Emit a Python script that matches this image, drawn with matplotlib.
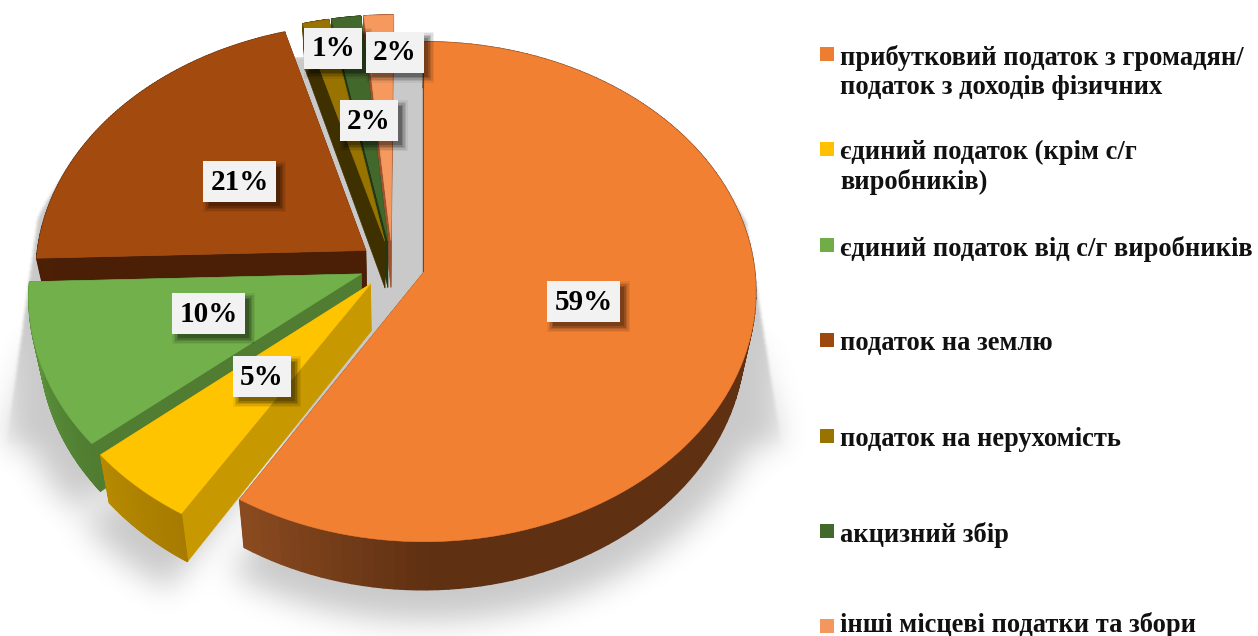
#!/usr/bin/env python3

import matplotlib.pyplot as plt
import numpy as np
from matplotlib import colors
from matplotlib.path import Path
from matplotlib.patches import Rectangle

legend_labels = [
    "прибутковий податок з громадян/\nподаток з доходів фізичних",
    "єдиний податок (крім с/г\nвиробників)",
    "єдиний податок від с/г виробників",
    "податок на землю",
    "податок на нерухомість",
    "акцизний збір",
    "інші місцеві податки та збори",
]
values = [58.7, 5.1, 10.7, 21.0, 1.4, 1.55, 1.55]
value_labels = ["59%", "5%", "10%", "21%", "1%", "2%", "2%"]

top_colors = ["#F28033", "#FFC400", "#72B04C", "#A34B0F", "#997300", "#43682B", "#F6995F"]
side_colors = ["#5F3012", "#C89800", "#507D32", "#4A1F05", "#3F3000", "#1F3A14", "#A0522D"]
arc_start_colors = ["#5F3012", "#A67B00", "#4F7C31", "#4A1F05", "#5F4700", "#2A441C", "#A0522D"]
arc_end_colors = ["#8A4A20", "#B58900", "#5F9A3E", "#5A2A0A", "#5F4700", "#2A441C", "#A0522D"]
arc_fade = [0.85, 0, 0, 0, 0, 0, 0]
legend_colors = ["#ED7D31", "#FFC000", "#70AD47", "#9E480E", "#997300", "#43682B", "#F4975F"]
label_pos = [(583.5, 301.5), (262, 376.5), (208.5, 313.5), (239.5, 181.5),
             (333, 48), (368.5, 120.5), (395, 52)]
legend_y = [54, 149, 245, 340, 436, 531, 626]

# perspective of the pie plane, fitted on the picture
CX, CY = 391, 265
PX, PU = 424, 0.096
RX, RY = 330, 247.3
PERSP = 0.08
EXPLODE = 0.1
DEPTH = 47
SHRINK = 0.97


def project(u, v):
    w = 1 + PERSP * v
    return PX + RX * (u - PU) / w, CY - RY * v / w


def lower(x, y):
    return CX + (x - CX) * SHRINK, y + DEPTH + 0.004 * (y - CY)


def wedge_points(a0, a1, explode, n=120):
    mid = (a0 + a1) / 2
    ox, oy = explode * np.sin(mid), explode * np.cos(mid)
    t = np.linspace(a0, a1, n)
    ax_, ay_ = project(np.array([ox]), np.array([oy]))
    x, y = project(ox + np.sin(t), oy + np.cos(t))
    return ax_[0], ay_[0], x, y


def gaussian_blur(img, sigma):
    pad = 80
    big = np.pad(img, pad)
    fy = np.fft.fftfreq(big.shape[0])[:, None]
    fx = np.fft.rfftfreq(big.shape[1])[None, :]
    kernel = np.exp(-2 * (np.pi * sigma) ** 2 * (fx ** 2 + fy ** 2))
    out = np.fft.irfft2(np.fft.rfft2(big) * kernel, s=big.shape)
    return out[pad:-pad, pad:-pad]


def shadow_image(angles):
    gx, gy = np.meshgrid(np.arange(1258) + 0.5, np.arange(636) + 0.5)
    pts = np.column_stack([gx.ravel(), gy.ravel()])
    mask = np.zeros(gx.shape)
    for a0, a1 in angles:
        ax_, ay_, x, y = wedge_points(a0, a1, EXPLODE)
        x = CX + (np.r_[ax_, x] - CX) * 1.06
        y = (np.r_[ay_, y] - 293.5) * 1.13 + 341
        inside = Path(np.column_stack([x, y])).contains_points(pts)
        mask[inside.reshape(gx.shape)] = 1

    # the flanks of the shadow run almost straight
    xl = 33 + (gy - 253) * (7 - 33) / (440 - 253)
    xr = 757 + (gy - 290) * (779 - 757) / (430 - 290)
    upper = gy < 445
    mask[upper & ((gx < xl) | (gx > xr))] = 0
    mask[upper & (gy >= 253) & (gx >= xl) & (gx <= xr)] = 1
    # band behind the thin slices
    mask[(gy >= 57) & (gy < 300) & (gx >= 293) & (gx <= 430)] = 1

    sharp = gaussian_blur(mask, 1.5)
    soft = gaussian_blur(mask, 15)
    t = np.clip((gy - 320) / 130, 0, 1)
    alpha = sharp * (1 - t) + soft * t
    alpha[gy < 57] = 0
    return 255 - np.clip(alpha, 0, 1) * 54


def draw_slice(ax, a0, a1, top, side, arc0, arc1, fade, z):
    px, py, x, y = wedge_points(a0, a1, EXPLODE)
    bpx, bpy = lower(px, py)
    bx, by = lower(x, y)

    # cut faces first, then the rim, then the top
    for i in (0, -1):
        ax.fill([px, x[i], bx[i], bpx], [py, y[i], by[i], bpy],
                color=side, lw=0.4, zorder=z)
    c0 = np.array(colors.to_rgb(arc0))
    c1 = np.array(colors.to_rgb(arc1))
    n = len(x)
    for i in range(n - 1):
        f = max(0, (i / (n - 2) - fade) / (1 - fade))
        ax.fill([x[i], x[i + 1], bx[i + 1], bx[i]], [y[i], y[i + 1], by[i + 1], by[i]],
                color=c0 + (c1 - c0) * f, lw=1.0, zorder=z)
    ax.fill(np.r_[px, x], np.r_[py, y], color=top, lw=0.4, zorder=z + 0.5)


def draw_label(ax, text, cx, cy):
    w = 28 + 15 * len(text)
    h = 41
    for grow, a in [(5, 0.06), (3.5, 0.09), (2, 0.12), (0.5, 0.16), (-1, 0.2)]:
        ax.add_patch(Rectangle((cx - w / 2 + 5 - grow, cy - h / 2 + 5 - grow), w + 2 * grow, h + 2 * grow,
                               fc="black", ec="none", alpha=a, zorder=50))
    ax.add_patch(Rectangle((cx - w / 2, cy - h / 2), w, h, fc="#F2F2F2", ec="none", zorder=51))
    ax.text(cx, cy + 1, text, ha="center", va="center", fontsize=21,
            fontweight="bold", family="Liberation Serif", color="black", zorder=52)


fig = plt.figure(figsize=(12.58, 6.36), dpi=100)
ax = fig.add_axes([0, 0, 1, 1])

fracs = np.array(values) / sum(values)
edges = np.r_[0, np.cumsum(fracs)] * 2 * np.pi
angles = list(zip(edges[:-1], edges[1:]))

ax.imshow(shadow_image(angles), cmap="gray", vmin=0, vmax=255,
          extent=(0, 1258, 636, 0), aspect="auto", zorder=0)

# back slices first so the front ones cover them
for z, i in enumerate([6, 5, 4, 3, 2, 1, 0]):
    draw_slice(ax, angles[i][0], angles[i][1], top_colors[i], side_colors[i],
               arc_start_colors[i], arc_end_colors[i], arc_fade[i], 2 + z)

for lab, (lx, ly) in zip(value_labels, label_pos):
    draw_label(ax, lab, lx, ly)

for lab, col, y in zip(legend_labels, legend_colors, legend_y):
    ax.add_patch(Rectangle((820, y - 7), 14, 14, fc=col, ec="none", zorder=10))
    # last entry sits right on the bottom edge, keep its letters visible
    ax.text(840, min(y - 9, 612), lab, ha="left", va="top", fontsize=19.1, fontweight="bold",
            family="Liberation Serif", color="#111111", linespacing=1.19, zorder=10)

ax.set_xlim(0, 1258)
ax.set_ylim(636, 0)
ax.axis("off")

fig.savefig("out.png", dpi=100)
